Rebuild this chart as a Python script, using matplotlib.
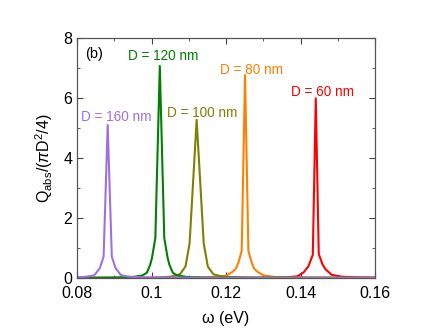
import matplotlib
matplotlib.use("Agg")
import matplotlib.pyplot as plt
from matplotlib.ticker import MultipleLocator, FixedLocator, FixedFormatter

plt.rcParams["font.family"] = ["Liberation Sans", "DejaVu Sans"]
plt.rcParams["mathtext.fontset"] = "custom"
plt.rcParams["mathtext.rm"] = "Liberation Sans"
plt.rcParams["mathtext.it"] = "Liberation Sans:italic"

# absorption spectra, one curve per particle diameter
x_60 = [0.080, 0.130, 0.1361, 0.1391, 0.1408, 0.1421, 0.1433, 0.1441, 0.1449, 0.1459, 0.1467, 0.1484, 0.1511, 0.1550, 0.1600]
y_60 = [0.0, 0.0, 0.02, 0.05, 0.18, 0.38, 0.77, 5.99, 0.8, 0.45, 0.29, 0.10, 0.04, 0.02, 0.01]

x_80 = [0.080, 0.112, 0.1171, 0.1201, 0.1217, 0.1226, 0.1233, 0.1242, 0.1251, 0.1260, 0.1269, 0.1276, 0.1285, 0.1301, 0.1331, 0.140, 0.160]
y_80 = [0.0, 0.0, 0.03, 0.08, 0.2, 0.3, 0.5, 0.9, 6.77, 0.9, 0.5, 0.3, 0.2, 0.08, 0.03, 0.01, 0.0]

x_100 = [0.080, 0.100, 0.1051, 0.1076, 0.1091, 0.1102, 0.1121, 0.1140, 0.1151, 0.1166, 0.1191, 0.125, 0.160]
y_100 = [0.0, 0.0, 0.04, 0.12, 0.38, 1.15, 5.27, 1.15, 0.38, 0.12, 0.04, 0.01, 0.0]

x_120 = [0.080, 0.090, 0.0950, 0.0975, 0.0987, 0.0996, 0.1001, 0.1010, 0.1022, 0.1034, 0.1043, 0.1048, 0.1057, 0.1069, 0.1095, 0.115, 0.160]
y_120 = [0.0, 0.01, 0.03, 0.08, 0.17, 0.43, 0.67, 1.33, 7.07, 1.33, 0.67, 0.43, 0.17, 0.08, 0.03, 0.01, 0.0]

x_160 = [0.080, 0.0825, 0.0840, 0.0847, 0.0861, 0.0871, 0.0882, 0.0893, 0.0903, 0.0917, 0.0924, 0.0940, 0.097, 0.105, 0.120, 0.160]
y_160 = [0.02, 0.04, 0.07, 0.10, 0.33, 0.71, 5.1, 0.71, 0.33, 0.10, 0.07, 0.04, 0.02, 0.01, 0.0, 0.0]

labels = ["D = 60 nm", "D = 80 nm", "D = 100 nm", "D = 120 nm", "D = 160 nm"]
label_pos = [(0.1459, 6.06), (0.1267, 6.8), (0.1136, 5.37), (0.1031, 7.27), (0.0905, 5.24)]

xticks = [0.08, 0.10, 0.12, 0.14, 0.16]
xtick_labels = ["0.08", "0.1", "0.12", "0.14", "0.16"]
yticks = [0, 2, 4, 6, 8]

colors = ["#ff0000", "#ff8000", "#808000", "#008000", "#a070e0"]
curves = [(x_60, y_60), (x_80, y_80), (x_100, y_100), (x_120, y_120), (x_160, y_160)]

fig = plt.figure(figsize=(4.36, 3.34), dpi=100)
ax = fig.add_axes([0.177, 0.168, 0.683, 0.718])

for (xs, ys), c, lab, (tx, ty) in zip(curves, colors, labels, label_pos):
    ax.plot(xs, ys, color=c, linewidth=1.5)
    ax.text(tx, ty, lab, color=c, fontsize=9.8, ha="center", va="baseline")

ax.text(0.0821, 7.33, "(b)", fontsize=10.5, ha="left", va="baseline")

ax.set_xlim(0.08, 0.16)
ax.set_ylim(0, 8)
ax.xaxis.set_major_locator(FixedLocator(xticks))
ax.xaxis.set_major_formatter(FixedFormatter(xtick_labels))
ax.xaxis.set_minor_locator(MultipleLocator(0.01))
ax.set_yticks(yticks)
ax.yaxis.set_minor_locator(MultipleLocator(1))
ax.tick_params(which="both", direction="in", top=True, right=True, labelsize=11.5, color="#444444")
ax.tick_params(axis="x", which="major", pad=6)
ax.tick_params(which="major", length=4)
ax.tick_params(which="minor", length=2.5)
for s in ax.spines.values():
    s.set_color("#555555")
    s.set_linewidth(0.9)

ax.set_xlabel("ω (eV)", fontsize=11.5, labelpad=7)
ax.set_ylabel(r"Q$_{\rm abs}$/($\pi$D$^{\rm 2}$/4)", fontsize=11.5, labelpad=6)

fig.savefig("out.png", dpi=100)
